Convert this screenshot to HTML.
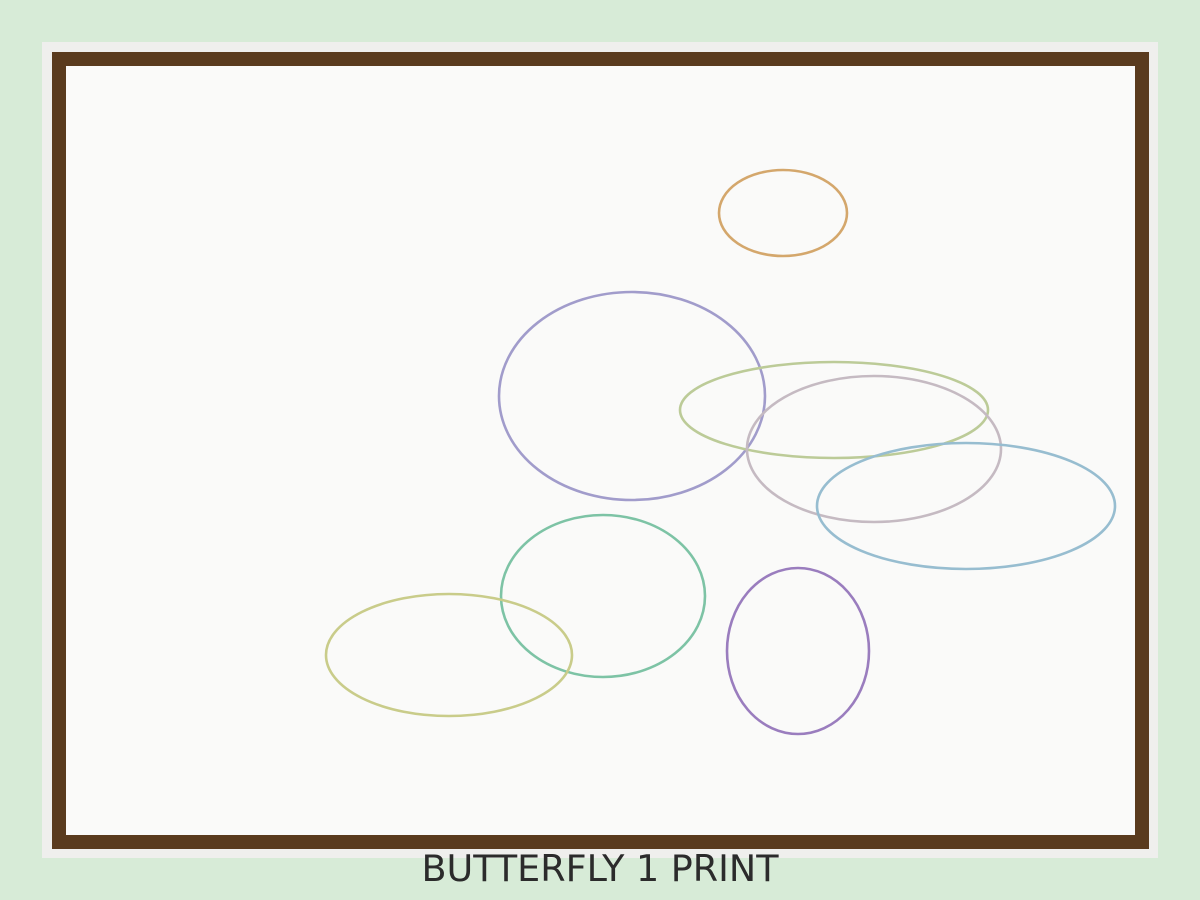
<!DOCTYPE html>
<html><head><meta charset="utf-8"><style>
html,body{margin:0;padding:0;background:#d7ebd7;}
svg{display:block;}
</style></head><body>
<svg width="1200" height="900" viewBox="0 0 1200 900">
<rect x="0" y="0" width="1200" height="900" fill="#d7ebd7"/>
<rect x="42" y="42" width="1116" height="816" fill="#efefed"/>
<rect x="59" y="59" width="1083" height="783" fill="#fafaf9" stroke="#5a3b1e" stroke-width="14"/>
<g id="marks"></g>
<text x="600" y="881" text-anchor="middle" font-family="'DejaVu Sans','Liberation Sans',sans-serif" font-size="36.5" fill="#2b2b2b">BUTTERFLY 1 PRINT</text>
</svg>
<script>
const names = ["orange","lavender","olive","mauve","blue","teal","yellow","purple"];
const cxs = [783,632,834,874,966,603,449,798];
const cys = [213,396,410,449,506,596,655,651];
const rxs = [64,133,154,127,149,102,123,71];
const rys = [43,104,48,73,63,81,61,83];
const colors = ["#d4a76c","#a19ccb","#bccb98","#c5bac2","#97bdd0","#7dc3a5","#c9cc8a","#9a7dbe"];
const g = document.getElementById('marks');
const NS = 'http://www.w3.org/2000/svg';
for (let i = 0; i < names.length; i++) {
  const e = document.createElementNS(NS, 'ellipse');
  e.setAttribute('cx', cxs[i]);
  e.setAttribute('cy', cys[i]);
  e.setAttribute('rx', rxs[i]);
  e.setAttribute('ry', rys[i]);
  e.setAttribute('fill', 'none');
  e.setAttribute('stroke', colors[i]);
  e.setAttribute('stroke-width', '2.6');
  
  
  g.appendChild(e);
}
</script>
</body></html>
